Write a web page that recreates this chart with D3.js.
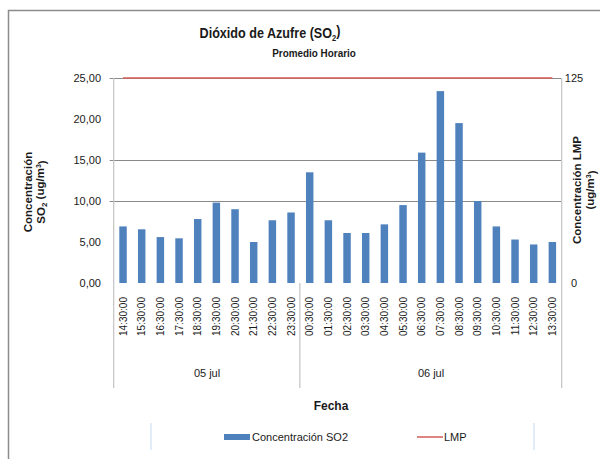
<!DOCTYPE html>
<html>
<head>
<meta charset="utf-8">
<script src="https://cdn.jsdelivr.net/npm/d3@7"></script>
<style>
  body { margin: 0; background: #fff; }
  svg { display: block; font-family: 'Liberation Sans Narrow', 'Liberation Sans', sans-serif; }
</style>
</head>
<body>
<div id="chart"></div>
<script>
const times = ['14:30:00', '15:30:00', '16:30:00', '17:30:00', '18:30:00', '19:30:00', '20:30:00', '21:30:00', '22:30:00', '23:30:00',
  '00:30:00', '01:30:00', '02:30:00', '03:30:00', '04:30:00', '05:30:00', '06:30:00', '07:30:00', '08:30:00', '09:30:00',
  '10:30:00', '11:30:00', '12:30:00', '13:30:00'];
const days = ['05 jul', '05 jul', '05 jul', '05 jul', '05 jul', '05 jul', '05 jul', '05 jul', '05 jul', '05 jul',
  '06 jul', '06 jul', '06 jul', '06 jul', '06 jul', '06 jul', '06 jul', '06 jul', '06 jul', '06 jul',
  '06 jul', '06 jul', '06 jul', '06 jul'];
const so2 = [6.9, 6.55, 5.6, 5.45, 7.8, 9.8, 9.0, 5.0, 7.65, 8.6,
  13.5, 7.65, 6.1, 6.1, 7.15, 9.5, 15.9, 23.4, 19.5, 10.0,
  6.9, 5.3, 4.7, 5.0];
const lmp = 125;
const leftTicks = [0, 5, 10, 15, 20, 25];
const rightTicks = [0, 125];
const gridValues = [10, 15, 25];

const
  W = 600,
  H = 459,
  pad = { top: 78, bottom: 283, left: 113.7, right: 561.7 },
  blue = '#4f81bd',
  red = '#d35c58',
  grid = '#8a8a8a',
  axisGrey = '#c4c4c4',
  ink = '#1a1a1a';

const fmt = d3.formatLocale({ decimal: ',', thousands: '.', grouping: [3], currency: ['', ''] }).format('.2f');

const svg = d3.select('#chart')
  .append('svg')
  .attr('width', W)
  .attr('height', H);

// chart frame (only top and left edges are visible)
svg.append('rect')
  .attr('x', 8.5).attr('y', 10.5)
  .attr('width', 640).attr('height', 500)
  .attr('fill', 'none')
  .attr('stroke', '#8c8c8c')
  .attr('stroke-width', 1.5);

const x = d3.scaleBand()
  .domain(d3.range(times.length))
  .range([pad.left, pad.right])
  .paddingInner(0.6)
  .paddingOuter(0.3);

const y = d3.scaleLinear().domain([0, 25]).range([pad.bottom, pad.top]);
const y2 = d3.scaleLinear().domain([0, 125]).range([pad.bottom, pad.top]);

// gridlines
svg.append('g')
  .selectAll('line')
  .data(gridValues)
  .enter().append('line')
  .attr('x1', pad.left - 4)
  .attr('x2', pad.right)
  .attr('y1', d => Math.round(y(d)) + 0.5)
  .attr('y2', d => Math.round(y(d)) + 0.5)
  .attr('stroke', grid)
  .attr('stroke-width', 1);

// left and right axis lines
svg.append('line')
  .attr('x1', pad.left).attr('x2', pad.left)
  .attr('y1', pad.top).attr('y2', 388)
  .attr('stroke', axisGrey).attr('stroke-width', 1.2);
svg.append('line')
  .attr('x1', pad.right).attr('x2', pad.right)
  .attr('y1', pad.top).attr('y2', 388)
  .attr('stroke', axisGrey).attr('stroke-width', 1.2);

// left tick labels
svg.append('g')
  .selectAll('text')
  .data(leftTicks)
  .enter().append('text')
  .attr('x', 101)
  .attr('y', d => y(d))
  .attr('dy', '0.35em')
  .attr('text-anchor', 'end')
  .attr('font-size', 11)
  .attr('fill', ink)
  .text(d => fmt(d));

// right tick labels
svg.append('g')
  .selectAll('text')
  .data(rightTicks)
  .enter().append('text')
  .attr('x', 574)
  .attr('y', d => y2(d))
  .attr('dy', '0.35em')
  .attr('text-anchor', 'middle')
  .attr('font-size', 11)
  .attr('fill', ink)
  .text(String);

// bars
svg.append('g')
  .selectAll('rect')
  .data(so2)
  .enter().append('rect')
  .attr('x', (d, i) => x(i))
  .attr('y', d => y(d))
  .attr('width', x.bandwidth())
  .attr('height', d => y(0) - y(d))
  .attr('fill', blue);

// LMP line
const line = d3.line()
  .x((d, i) => x(i) + x.bandwidth() / 2)
  .y(d => y2(d));

svg.append('path')
  .datum(times.map(() => lmp))
  .attr('d', line)
  .attr('fill', 'none')
  .attr('stroke', red)
  .attr('stroke-width', 1.5);

// x tick labels (rotated)
svg.append('g')
  .selectAll('text')
  .data(times)
  .enter().append('text')
  .attr('transform', (d, i) => 'translate(' + (x(i) + x.bandwidth() / 2) + ',297) rotate(-90)')
  .attr('dy', '0.35em')
  .attr('text-anchor', 'end')
  .attr('font-size', 10)
  .attr('fill', ink)
  .text(d => d);

// day groups
const groups = d3.groups(times.map((t, i) => ({ i: i, day: days[i] })), d => d.day);

svg.append('g')
  .selectAll('line')
  .data(groups.slice(1))
  .enter().append('line')
  .attr('x1', d => x(d[1][0].i) - x.step() * x.paddingInner() / 2 - 0.5)
  .attr('x2', d => x(d[1][0].i) - x.step() * x.paddingInner() / 2 - 0.5)
  .attr('y1', pad.bottom)
  .attr('y2', 388)
  .attr('stroke', axisGrey)
  .attr('stroke-width', 1.2);

svg.append('g')
  .selectAll('text')
  .data(groups)
  .enter().append('text')
  .attr('x', d => {
    const first = d[1][0].i, last = d[1][d[1].length - 1].i;
    return (x(first) + x(last) + x.bandwidth()) / 2;
  })
  .attr('y', 377)
  .attr('text-anchor', 'middle')
  .attr('font-size', 11)
  .attr('fill', ink)
  .text(d => d[0]);

// axis title x
svg.append('text')
  .attr('x', 331)
  .attr('y', 410)
  .attr('text-anchor', 'middle')
  .attr('font-size', 12)
  .attr('font-weight', 'bold')
  .attr('fill', ink)
  .text('Fecha');

// left axis title
const lt = svg.append('text')
  .attr('transform', 'translate(28,192) rotate(-90)')
  .attr('text-anchor', 'middle')
  .attr('font-size', 11.5)
  .attr('font-weight', 'bold')
  .attr('fill', ink);
lt.append('tspan').attr('x', 0).attr('dy', '0.35em').text('Concentración');
const lt2 = lt.append('tspan').attr('x', 0).attr('dy', '1.1em');
lt2.append('tspan').text('SO');
lt2.append('tspan').attr('font-size', 8).attr('dy', '0.25em').text('2');
lt2.append('tspan').attr('dy', '-0.25em').text(' (ug/m');
lt2.append('tspan').attr('font-size', 7).attr('dy', '-0.45em').text('3');
lt2.append('tspan').attr('dy', '0.45em').text(')');

// right axis title
const rt = svg.append('text')
  .attr('transform', 'translate(577,190) rotate(-90)')
  .attr('text-anchor', 'middle')
  .attr('font-size', 11.5)
  .attr('font-weight', 'bold')
  .attr('fill', ink);
rt.append('tspan').attr('x', 0).attr('dy', '0.35em').text('Concentración LMP');
const rt2 = rt.append('tspan').attr('x', 0).attr('dy', '1.1em');
rt2.append('tspan').text('(ug/m');
rt2.append('tspan').attr('font-size', 7).attr('dy', '-0.45em').text('3');
rt2.append('tspan').attr('dy', '0.45em').text(')');

// title (condensed by a horizontal scale)
const title = svg.append('text')
  .attr('transform', 'translate(270,38) scale(0.84,1)')
  .attr('text-anchor', 'middle')
  .attr('font-size', 15)
  .attr('font-weight', 'bold')
  .attr('fill', ink);
title.append('tspan').text('Dióxido de Azufre (SO');
title.append('tspan').attr('font-size', 9).attr('dy', '0.3em').text('2');
title.append('tspan').attr('dy', '-0.3em').text(')');

svg.append('text')
  .attr('transform', 'translate(314,57) scale(0.9,1)')
  .attr('text-anchor', 'middle')
  .attr('font-size', 11)
  .attr('font-weight', 'bold')
  .attr('fill', ink)
  .text('Promedio Horario');

// legend
const legendBox = [151, 534];
svg.append('g')
  .selectAll('line')
  .data(legendBox)
  .enter().append('line')
  .attr('x1', d => d).attr('x2', d => d)
  .attr('y1', 423).attr('y2', 450)
  .attr('stroke', '#c5d9f1')
  .attr('stroke-width', 1);

svg.append('rect')
  .attr('x', 224).attr('y', 434)
  .attr('width', 26).attr('height', 6)
  .attr('fill', blue);
svg.append('text')
  .attr('x', 252).attr('y', 441)
  .attr('font-size', 11)
  .attr('fill', ink)
  .text('Concentración SO2');

svg.append('line')
  .attr('x1', 417).attr('x2', 443)
  .attr('y1', 437).attr('y2', 437)
  .attr('stroke', red)
  .attr('stroke-width', 1.5);
svg.append('text')
  .attr('x', 444).attr('y', 441)
  .attr('font-size', 11)
  .attr('fill', ink)
  .text('LMP');
</script>
</body>
</html>
